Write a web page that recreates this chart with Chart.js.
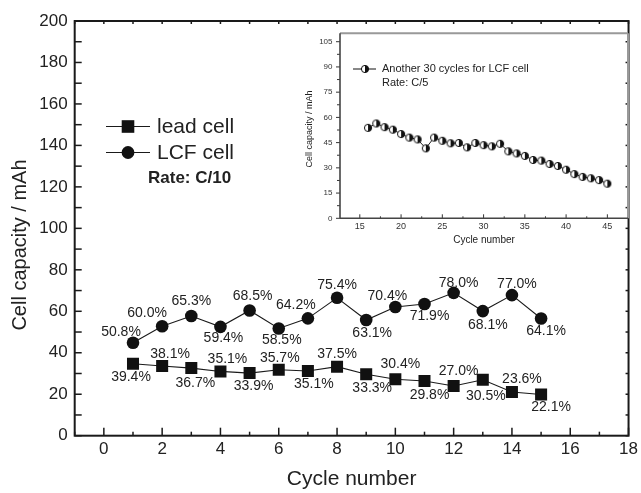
<!DOCTYPE html>
<html>
<head>
<meta charset="utf-8">
<script src="https://cdn.jsdelivr.net/npm/chart.js@4.4.1/dist/chart.umd.min.js"></script>
<style>
  html, body { margin: 0; padding: 0; background: #fff; }
  #wrap { position: relative; width: 641px; height: 493px; }
  #main { position: absolute; left: 0; top: 0; }
  #inset { position: absolute; left: 290px; top: 21px; }
</style>
</head>
<body>
<div id="wrap">
  <canvas id="main" width="641" height="493"></canvas>
  <canvas id="inset" width="343" height="234"></canvas>
</div>
<script>
// main chart data
const cycles = [1, 2, 3, 4, 5, 6, 7, 8, 9, 10, 11, 12, 13, 14, 15];
const leadCell = [34.7, 33.6, 32.6, 31.0, 30.2, 31.8, 31.2, 33.3, 29.6, 27.2, 26.4, 24.0, 27.0, 21.1, 19.9];
const lcfCell = [44.8, 52.8, 57.7, 52.5, 60.4, 51.7, 56.6, 66.5, 55.8, 62.1, 63.5, 68.9, 60.1, 67.8, 56.5];
const leadLabels = ['39.4%', '38.1%', '36.7%', '35.1%', '33.9%', '35.7%', '35.1%', '37.5%', '33.3%', '30.4%', '29.8%', '27.0%', '30.5%', '23.6%', '22.1%'];
const lcfLabels = ['50.8%', '60.0%', '65.3%', '59.4%', '68.5%', '58.5%', '64.2%', '75.4%', '63.1%', '70.4%', '71.9%', '78.0%', '68.1%', '77.0%', '64.1%'];
const xTicks = [0, 2, 4, 6, 8, 10, 12, 14, 16, 18];
const yTicks = [0, 20, 40, 60, 80, 100, 120, 140, 160, 180, 200];

// inset data
const insetCycles = [16, 17, 18, 19, 20, 21, 22, 23, 24, 25, 26, 27, 28, 29, 30,
  31, 32, 33, 34, 35, 36, 37, 38, 39, 40, 41, 42, 43, 44, 45];
const insetCapacity = [53.8, 56.4, 54.2, 52.7, 50.1, 48.0, 46.9, 41.6, 48.0, 46.1, 44.6, 44.8, 42.2, 44.8, 43.5,
  42.8, 44.3, 39.8, 38.6, 37.1, 34.7, 34.3, 32.3, 31.1, 28.9, 26.3, 24.6, 23.8, 22.7, 20.6];
const insetXTicks = [15, 20, 25, 30, 35, 40, 45];
const insetYTicks = [0, 15, 30, 45, 60, 75, 90, 105];

// label placement relative to each point (px)
const leadLabelOffsets = [[-2, 13], [8, -12], [4, 15], [7, -12], [4, 13], [1, -12], [6, 13], [0, -13],
  [6, 14], [5, -15], [5, 14], [5, -15], [3, 16], [10, -13], [10, 13]];
const lcfLabelOffsets = [[-12, -11], [-15, -13], [0, -15], [3, 11], [3, -14], [3, 12], [-12, -13], [0, -13],
  [6, 13], [-8, -11], [5, 12], [5, -10], [5, 14], [5, -11], [5, 13]];

const FONT = "'Liberation Sans', Arial, sans-serif";
const INK = '#1a1a1a';

function line(ctx, x1, y1, x2, y2) {
  ctx.beginPath();
  ctx.moveTo(x1, y1);
  ctx.lineTo(x2, y2);
  ctx.stroke();
}

// half white / half black circle used in the inset
function halfCircle(r) {
  const c = document.createElement('canvas');
  const s = Math.ceil(r * 2 + 2);
  c.width = s; c.height = s;
  const g = c.getContext('2d');
  const m = s / 2;
  g.fillStyle = '#fff';
  g.beginPath(); g.arc(m, m, r, 0, Math.PI * 2); g.fill();
  g.fillStyle = '#111';
  g.beginPath(); g.arc(m, m, r, -Math.PI / 2, Math.PI / 2); g.closePath(); g.fill();
  g.strokeStyle = '#111'; g.lineWidth = 1;
  g.beginPath(); g.arc(m, m, r, 0, Math.PI * 2); g.stroke();
  return c;
}

const mainDecor = {
  id: 'mainDecor',
  afterDatasetsDraw(chart) {
    const ctx = chart.ctx;
    ctx.save();
    ctx.font = '14px ' + FONT;
    ctx.fillStyle = '#222';
    ctx.textAlign = 'center';
    ctx.textBaseline = 'middle';
    [[0, leadLabels, leadLabelOffsets], [1, lcfLabels, lcfLabelOffsets]].forEach(([i, labels, offs]) => {
      chart.getDatasetMeta(i).data.forEach((pt, j) => {
        ctx.fillText(labels[j], pt.x + offs[j][0], pt.y + offs[j][1]);
      });
    });
    ctx.restore();
  },
  afterDraw(chart) {
    const { ctx, chartArea: a, scales: { x, y } } = chart;
    ctx.save();
    ctx.strokeStyle = INK;
    ctx.lineWidth = 1.5;
    for (let v = -1; v <= 18; v++) {
      const px = x.getPixelForValue(v);
      line(ctx, px, a.bottom, px, a.bottom - (v % 2 === 0 ? 8 : 4));
      line(ctx, px, a.top, px, a.top + 3);
    }
    for (let v = 0; v <= 200; v += 10) {
      const py = y.getPixelForValue(v);
      line(ctx, a.left, py, a.left + 7, py);
      line(ctx, a.right, py, a.right - 3, py);
    }
    ctx.lineWidth = 2;
    ctx.strokeRect(a.left, a.top, a.right - a.left, a.bottom - a.top);

    // axis titles
    ctx.fillStyle = '#222';
    ctx.textAlign = 'center';
    ctx.textBaseline = 'middle';
    ctx.font = '21px ' + FONT;
    ctx.fillText('Cycle number', (a.left + a.right) / 2, 479);
    ctx.save();
    ctx.translate(20, 245);
    ctx.rotate(-Math.PI / 2);
    ctx.font = '20px ' + FONT;
    ctx.fillText('Cell capacity / mAh', 0, 0);
    ctx.restore();

    // legend
    ctx.lineWidth = 1.2;
    ctx.fillStyle = '#111';
    line(ctx, 106, 126.5, 150, 126.5);
    ctx.fillRect(128 - 6.3, 126.5 - 6.3, 12.6, 12.6);
    line(ctx, 106, 152.5, 150, 152.5);
    ctx.beginPath(); ctx.arc(128, 152.5, 6.4, 0, Math.PI * 2); ctx.fill();
    ctx.fillStyle = '#222';
    ctx.textAlign = 'left';
    ctx.font = '21px ' + FONT;
    ctx.fillText('lead cell', 157, 127);
    ctx.fillText('LCF cell', 157, 153);
    ctx.font = 'bold 17px ' + FONT;
    ctx.fillText('Rate: C/10', 148, 178);
    ctx.restore();
  }
};

new Chart(document.getElementById('main'), {
  type: 'line',
  data: {
    datasets: [{
      label: 'lead cell',
      data: cycles.map((c, i) => ({ x: c, y: leadCell[i] })),
      borderColor: INK,
      backgroundColor: '#111',
      borderWidth: 1.1,
      pointStyle: 'rect',
      pointRadius: 8.5,
      pointBorderWidth: 0,
      tension: 0
    }, {
      label: 'LCF cell',
      data: cycles.map((c, i) => ({ x: c, y: lcfCell[i] })),
      borderColor: INK,
      backgroundColor: '#111',
      borderWidth: 1.1,
      pointStyle: 'circle',
      pointRadius: 6.3,
      pointBorderWidth: 0,
      tension: 0
    }]
  },
  options: {
    responsive: false,
    animation: false,
    devicePixelRatio: 1,
    layout: { padding: { top: 21, right: 10, left: 0, bottom: 0 } },
    plugins: { legend: { display: false }, tooltip: { enabled: false } },
    scales: {
      x: {
        type: 'linear', min: -1, max: 18,
        afterBuildTicks: s => { s.ticks = xTicks.map(v => ({ value: v })); },
        afterFit: s => { s.height = 57.3; },
        grid: { display: false, drawTicks: false },
        border: { display: false },
        ticks: { color: '#222', font: { family: FONT, size: 17 }, padding: 3, maxRotation: 0, autoSkip: false }
      },
      y: {
        min: 0, max: 200,
        afterBuildTicks: s => { s.ticks = yTicks.map(v => ({ value: v })); },
        afterFit: s => { s.width = 74.7; },
        grid: { display: false, drawTicks: false },
        border: { display: false },
        ticks: { color: '#222', font: { family: FONT, size: 17 }, padding: 7 }
      }
    }
  },
  plugins: [mainDecor]
});

const insetDecor = {
  id: 'insetDecor',
  afterDraw(chart) {
    const { ctx, chartArea: a, scales: { x, y } } = chart;
    ctx.save();
    ctx.strokeStyle = '#333';
    ctx.lineWidth = 1;
    for (let v = 15; v <= 47.5; v += 2.5) {
      const px = x.getPixelForValue(v);
      line(ctx, px, a.bottom, px, a.bottom - (v % 5 === 0 ? 4 : 2));
    }
    for (let v = 0; v <= 110; v += 7.5) {
      const py = y.getPixelForValue(v);
      line(ctx, a.left, py, a.left - (v % 15 === 0 ? 4 : 3), py);
    }
    // frame: grey top/right, dark left/bottom
    ctx.strokeStyle = '#999';
    ctx.lineWidth = 2;
    line(ctx, a.left, a.top, a.right, a.top);
    line(ctx, a.right, a.top, a.right, a.bottom);
    ctx.strokeStyle = '#444';
    ctx.lineWidth = 1.6;
    line(ctx, a.left, a.top, a.left, a.bottom);
    line(ctx, a.left, a.bottom, a.right, a.bottom);

    ctx.fillStyle = '#222';
    ctx.textAlign = 'center';
    ctx.textBaseline = 'middle';
    ctx.font = '10px ' + FONT;
    ctx.fillText('Cycle number', (a.left + a.right) / 2, 219);
    ctx.save();
    ctx.translate(20, 108);
    ctx.rotate(-Math.PI / 2);
    ctx.font = '9px ' + FONT;
    ctx.fillText('Cell capacity / mAh', 0, 0);
    ctx.restore();

    // legend
    ctx.strokeStyle = '#111';
    ctx.lineWidth = 1;
    line(ctx, 63, 48, 86, 48);
    const m = halfCircle(3.6);
    ctx.drawImage(m, 75 - m.width / 2, 48 - m.height / 2);
    ctx.textAlign = 'left';
    ctx.font = '11px ' + FONT;
    ctx.fillText('Another 30 cycles for LCF cell', 92, 48);
    ctx.fillText('Rate: C/5', 92, 61.5);
    ctx.restore();
  }
};

new Chart(document.getElementById('inset'), {
  type: 'line',
  data: {
    datasets: [{
      label: 'Another 30 cycles for LCF cell',
      data: insetCycles.map((c, i) => ({ x: c, y: insetCapacity[i] })),
      borderColor: '#222',
      borderWidth: 1,
      pointStyle: halfCircle(3.6),
      tension: 0
    }]
  },
  options: {
    responsive: false,
    animation: false,
    devicePixelRatio: 1,
    layout: { padding: { top: 1.8, right: 4, left: 0, bottom: 0 } },
    plugins: { legend: { display: false }, tooltip: { enabled: false } },
    scales: {
      x: {
        type: 'linear', min: 12.6, max: 47.5,
        afterBuildTicks: s => { s.ticks = insetXTicks.map(v => ({ value: v })); },
        afterFit: s => { s.height = 36.7; },
        grid: { display: false, drawTicks: false },
        border: { display: false },
        ticks: { color: '#333', font: { family: FONT, size: 9 }, padding: 3, maxRotation: 0, autoSkip: false }
      },
      y: {
        min: 0, max: 110,
        afterBuildTicks: s => { s.ticks = insetYTicks.map(v => ({ value: v })); },
        afterFit: s => { s.width = 50; },
        grid: { display: false, drawTicks: false },
        border: { display: false },
        ticks: { color: '#333', font: { family: FONT, size: 8 }, padding: 7.5 }
      }
    }
  },
  plugins: [insetDecor]
});
</script>
</body>
</html>
